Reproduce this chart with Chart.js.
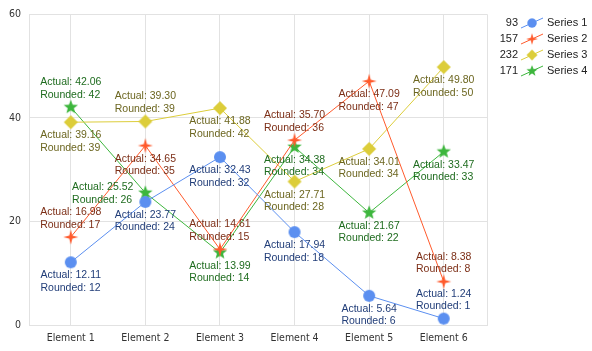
<!DOCTYPE html>
<html>
<head>
<meta charset="utf-8">
<script src="https://cdn.jsdelivr.net/npm/chart.js@4"></script>
<style>
  html, body { margin: 0; padding: 0; background: #fff; }
  #wrap { width: 592px; height: 351px; }
</style>
</head>
<body>
<div id="wrap"><canvas id="chart"></canvas></div>
<script>
// --- data
const categories = ['Element 1', 'Element 2', 'Element 3', 'Element 4', 'Element 5', 'Element 6'];
const seriesNames = ['Series 1', 'Series 2', 'Series 3', 'Series 4'];
const series1 = [12.11, 23.77, 32.43, 17.94, 5.64, 1.24];
const series2 = [16.98, 34.65, 14.61, 35.70, 47.09, 8.38];
const series3 = [39.16, 39.30, 41.88, 27.71, 34.01, 49.80];
const series4 = [42.06, 25.52, 13.99, 34.38, 21.67, 33.47];
const yTicks = [0, 20, 40, 60];

// styling
const lineColors = ['#5b8ff0', '#ff5a2c', '#dccd3a', '#3db63d'];
const labelColors = ['#213d78', '#7c2e16', '#6c6620', '#1f6c1f'];
const markerKinds = ['circle', 'star4', 'diamond', 'star5'];
// where each value label sits relative to its point
const labelSides = [
  ['below', 'below', 'below', 'below', 'below', 'above'],
  ['above', 'below', 'above', 'above', 'below', 'above'],
  ['below', 'above', 'below', 'below', 'below', 'below'],
  ['above', 'left', 'below', 'below', 'below', 'below']
];

function makeMarker(kind, color) {
  const size = 18;
  const c = document.createElement('canvas');
  c.width = size; c.height = size;
  const ctx = c.getContext('2d');
  const cx = size / 2, cy = size / 2;
  ctx.fillStyle = color;
  ctx.beginPath();
  if (kind === 'circle') {
    ctx.arc(cx, cy, 6, 0, Math.PI * 2);
  } else if (kind === 'diamond') {
    ctx.moveTo(cx, cy - 7); ctx.lineTo(cx + 7, cy); ctx.lineTo(cx, cy + 7); ctx.lineTo(cx - 7, cy);
  } else {
    const n = kind === 'star4' ? 4 : 5;
    const outer = 7.5;
    const inner = kind === 'star4' ? 2.2 : 3.2;
    for (let i = 0; i < n * 2; i++) {
      const r = i % 2 === 0 ? outer : inner;
      const a = -Math.PI / 2 + i * Math.PI / n;
      const px = cx + r * Math.cos(a), py = cy + r * Math.sin(a);
      if (i === 0) ctx.moveTo(px, py); else ctx.lineTo(px, py);
    }
  }
  ctx.closePath();
  ctx.fill();
  return c;
}

const allSeries = [series1, series2, series3, series4];
const markers = markerKinds.map((k, i) => makeMarker(k, lineColors[i]));

const valueLabels = {
  id: 'valueLabels',
  afterDatasetsDraw(chart) {
    const ctx = chart.ctx;
    ctx.save();
    ctx.font = '10.5px "Liberation Sans", Arial, sans-serif';
    ctx.textAlign = 'left';
    ctx.textBaseline = 'alphabetic';
    const lh = 12.5;
    chart.data.datasets.forEach((ds, di) => {
      const meta = chart.getDatasetMeta(di);
      meta.data.forEach((pt, i) => {
        const v = allSeries[di][i];
        const lines = ['Actual: ' + v.toFixed(2), 'Rounded: ' + Math.round(v)];
        const w = Math.max(...lines.map(l => ctx.measureText(l).width));
        const side = labelSides[di][i];
        let left, top;
        if (side === 'above') { left = pt.x - w / 2; top = pt.y - 7 - lh * 2; }
        else if (side === 'below') { left = pt.x - w / 2; top = pt.y + 6; }
        else { left = pt.x - 12 - w; top = pt.y - lh; }
        ctx.fillStyle = labelColors[di];
        lines.forEach((l, j) => ctx.fillText(l, left, top + 10 + j * lh));
      });
    });
    ctx.restore();
  }
};

const sideLegend = {
  id: 'sideLegend',
  afterDraw(chart) {
    const ctx = chart.ctx;
    ctx.save();
    ctx.font = '11px "Liberation Sans", Arial, sans-serif';
    ctx.textBaseline = 'middle';
    allSeries.forEach((s, i) => {
      const y = 23 + i * 16;
      const total = Math.round(s.reduce((a, b) => a + b, 0));
      ctx.fillStyle = '#222';
      ctx.textAlign = 'right';
      ctx.fillText(String(total), 518, y);
      ctx.strokeStyle = lineColors[i];
      ctx.lineWidth = 1;
      ctx.beginPath();
      ctx.moveTo(521, y + 5);
      ctx.lineTo(543, y - 5);
      ctx.stroke();
      ctx.drawImage(markers[i], 532 - 7, y - 7, 14, 14);
      ctx.fillStyle = '#222';
      ctx.textAlign = 'left';
      ctx.fillText(seriesNames[i], 547, y);
    });
    ctx.restore();
  }
};

const X_MIN = 0.44, X_MAX = 6.58;

new Chart(document.getElementById('chart'), {
  type: 'line',
  data: {
    datasets: allSeries.map((s, i) => ({
      label: seriesNames[i],
      data: s.map((v, j) => ({ x: j + 1, y: v })),
      borderColor: lineColors[i],
      backgroundColor: lineColors[i],
      borderWidth: 1,
      pointStyle: markers[i],
      pointRadius: 7,
      tension: 0
    }))
  },
  options: {
    responsive: true,
    maintainAspectRatio: false,
    animation: false,
    events: [],
    layout: { padding: { top: 14, right: 105, left: 0, bottom: 0 } },
    plugins: { legend: { display: false }, tooltip: { enabled: false } },
    scales: {
      x: {
        type: 'linear',
        min: X_MIN,
        max: X_MAX,
        afterBuildTicks: scale => {
          scale.ticks = [X_MIN, ...categories.map((c, i) => i + 1), X_MAX].map(v => ({ value: v }));
        },
        afterFit: scale => { scale.height = 26; },
        grid: { color: '#e2e2e2', drawTicks: false },
        border: { color: '#e2e2e2' },
        ticks: {
          autoSkip: false,
          maxRotation: 0,
          padding: 7,
          color: '#333',
          font: { family: '"DejaVu Sans Condensed", "DejaVu Sans"', size: 10.5 },
          callback: v => Number.isInteger(v) ? categories[v - 1] : ''
        }
      },
      y: {
        min: 0,
        max: 60,
        afterBuildTicks: scale => { scale.ticks = yTicks.map(v => ({ value: v })); },
        afterFit: scale => { scale.width = 29; },
        grid: { color: '#e2e2e2', drawTicks: false },
        border: { color: '#e2e2e2' },
        ticks: {
          padding: 8,
          color: '#333',
          font: { family: '"DejaVu Sans Condensed", "DejaVu Sans"', size: 10.5 }
        }
      }
    }
  },
  plugins: [valueLabels, sideLegend]
});
</script>
</body>
</html>
